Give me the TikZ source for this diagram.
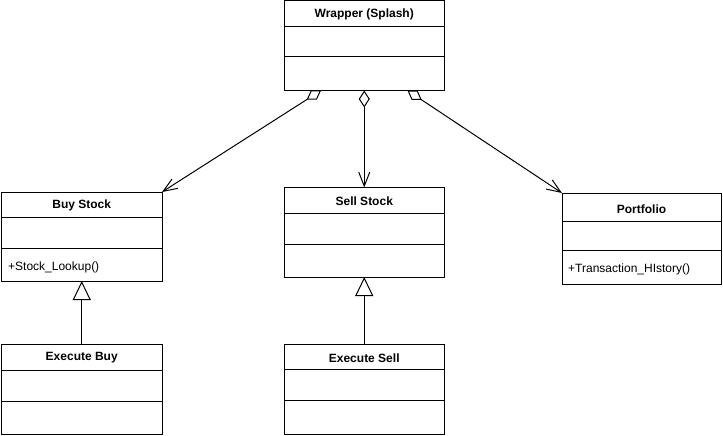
\documentclass[tikz,border=0pt]{standalone}
\usepackage{fontspec}
\setmainfont{Liberation Sans}
\usetikzlibrary{arrows.meta}
\begin{document}
\begin{tikzpicture}[x=1pt,y=-1pt,
  box/.style={draw, line width=1pt, fill=white, anchor=north west, inner sep=0pt, outer sep=0pt},
  title/.style={font=\bfseries\fontsize{12}{14}\selectfont, inner sep=0pt},
  meth/.style={font=\fontsize{12}{14}\selectfont, anchor=west, inner sep=0pt},
  agg/.style={line width=1pt, {Diamond[open,length=17pt,width=11pt]}-{Straight Barb[length=14pt,width=11pt]}},
  gen/.style={line width=1pt, -{Triangle[open,length=19pt,width=18pt]}},
  div/.style={line width=1pt}]
\useasboundingbox (0,0) rectangle (723,436);
% Wrapper
\node[box, minimum width=159.5pt, minimum height=89.5pt] (wr) at (284.5,1) {};
\node[title] (wrt) at (364.25,14.5) {Wrapper (Splash)};
\draw[div] (wr.west |- 0,27) -- (wr.east |- 0,27);
\draw[div] (wr.west |- 0,57) -- (wr.east |- 0,57);
% Buy Stock
\node[box, minimum width=160.5pt, minimum height=89pt] (bs) at (1.5,192) {};
\node[title] (bst) at (81.75,205) {Buy Stock};
\draw[div] (bs.west |- 0,217) -- (bs.east |- 0,217);
\draw[div] (bs.west |- 0,248) -- (bs.east |- 0,248);
\node[meth] (bsm) at (8,267) {+Stock\_Lookup()};
% Sell Stock
\node[box, minimum width=159.5pt, minimum height=89.5pt] (ss) at (284.5,187.5) {};
\node[title] (sst) at (364.25,201) {Sell Stock};
\draw[div] (ss.west |- 0,213) -- (ss.east |- 0,213);
\draw[div] (ss.west |- 0,244) -- (ss.east |- 0,244);
% Portfolio
\node[box, minimum width=159pt, minimum height=91pt] (pf) at (562,193) {};
\node[title] (pft) at (641.5,209) {Portfolio};
\draw[div] (pf.west |- 0,221) -- (pf.east |- 0,221);
\draw[div] (pf.west |- 0,250) -- (pf.east |- 0,250);
\node[meth] (pfm) at (568,269) {+Transaction\_HIstory()};
% Execute Buy
\node[box, minimum width=160.5pt, minimum height=90pt] (eb) at (1.5,344) {};
\node[title] (ebt) at (81.75,358) {Execute Buy};
\draw[div] (eb.west |- 0,370) -- (eb.east |- 0,370);
\draw[div] (eb.west |- 0,401) -- (eb.east |- 0,401);
% Execute Sell
\node[box, minimum width=159.5pt, minimum height=90pt] (es) at (284.5,344) {};
\node[title] (est) at (364.25,358) {Execute Sell};
\draw[div] (es.west |- 0,369) -- (es.east |- 0,369);
\draw[div] (es.west |- 0,400) -- (es.east |- 0,400);
% connectors
\coordinate (wl) at (321,90.5);
\coordinate (wrr) at (407.5,90.5);
\draw[agg] (wl) -- (bs.north east);
\draw[agg] (wr.south) -- (ss.north);
\draw[agg] (wrr) -- (pf.north west);
\draw[gen] (eb.north) -- (bs.south);
\draw[gen] (es.north) -- (ss.south);
\end{tikzpicture}
\end{document}
